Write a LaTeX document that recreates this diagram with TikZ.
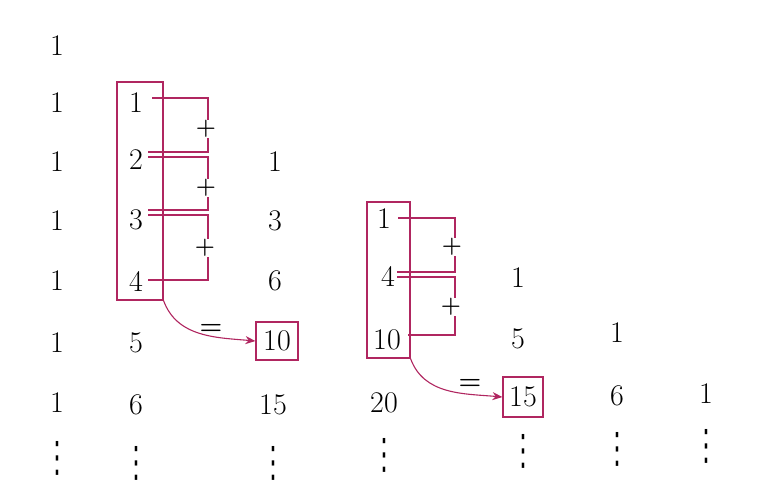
\documentclass[tikz,border=0pt]{standalone}
\usepackage{fontspec}
\usepackage{graphicx}
\setmainfont{Latin Modern Roman}
\newfontfamily\dvsans{DejaVu Sans}
\usetikzlibrary{arrows.meta}
\definecolor{crim}{RGB}{176,38,96}
\newcommand{\vdt}{\scalebox{1}[1.75]{⋮}}
\begin{document}
\begin{tikzpicture}[x=1pt,y=-1pt,
  num/.style={font=\fontsize{30}{34}\selectfont, inner sep=0pt},
  dts/.style={font=\dvsans\fontsize{24}{26}\selectfont, inner sep=0pt},
  pl/.style={font=\bfseries\fontsize{23}{26}\selectfont, fill=white, inner sep=0.3pt},
  eqs/.style={font=\bfseries\fontsize{26}{28}\selectfont, inner sep=0pt},
  brk/.style={draw=crim, line width=1.1pt},
  bx/.style={draw=crim, line width=1.1pt, inner sep=0pt},
  arr/.style={draw=crim, line width=1.1pt, -{Stealth[length=10pt,width=8pt]}}]
\useasboundingbox (0,0) rectangle (760,488);
% column 1
\node[num] (a0) at (57,46) {1};
\node[num] (a1) at (57,103) {1};
\node[num] (a2) at (57,162) {1};
\node[num] (a3) at (57,221) {1};
\node[num] (a4) at (57,281) {1};
\node[num] (a5) at (57,343) {1};
\node[num] (a6) at (57,403) {1};
\node[dts] (ad) at (57,458) {\vdt};
% column 2
\node[num] (b1) at (136,103) {1};
\node[num] (b2) at (136,160) {2};
\node[num] (b3) at (136,220) {3};
\node[num] (b4) at (136,281) {4};
\node[num] (b5) at (136,343) {5};
\node[num] (b6) at (136,405) {6};
\node[dts] (bd) at (136,463) {\vdt};
% column 3
\node[num] (c2) at (275,162) {1};
\node[num] (c3) at (275,221) {3};
\node[num] (c4) at (275,281) {6};
\node[num,bx,minimum width=42pt,minimum height=38pt] (c5) at (277,341) {10};
\node[num] (c6) at (273,405) {15};
\node[dts] (cd) at (273,463) {\vdt};
% column 4
\node[num] (d3) at (384,219) {1};
\node[num] (d4) at (388,276) {4};
\node[num] (d5) at (387,340) {10};
\node[num] (d6) at (384,403) {20};
\node[dts] (dd) at (384,455) {\vdt};
% column 5
\node[num] (e4) at (518,278) {1};
\node[num] (e5) at (518,339) {5};
\node[num,bx,minimum width=40pt,minimum height=40pt] (e6) at (523,397) {15};
\node[dts] (ed) at (523,451) {\vdt};
% column 6
\node[num] (f5) at (617,333) {1};
\node[num] (f6) at (617,396) {6};
\node[dts] (fd) at (617,449) {\vdt};
% column 7
\node[num] (g6) at (706,394) {1};
\node[dts] (gd) at (706,446) {\vdt};
% left group box
\node[bx,minimum width=46pt,minimum height=218pt] (lbox) at (140,191) {};
\draw[brk] (152,98) -- (208,98) -- (208,152) -- (148,152);
\draw[brk] (148,157) -- (208,157) -- (208,210) -- (148,210);
\draw[brk] (148,215) -- (208,215) -- (208,280) -- (148,280);
\node[pl] (p1) at (206,129) {+};
\node[pl] (p2) at (206,188) {+};
\node[pl] (p3) at (205,248) {+};
\draw[arr] (lbox.south east) to[out=-70,in=175] (c5.west);
\node[eqs] (eq1) at (211,329) {=};
% right group box
\node[bx,minimum width=43pt,minimum height=156pt] (rbox) at (388.5,280) {};
\draw[brk] (398,218) -- (455,218) -- (455,272) -- (397,272);
\draw[brk] (397,277) -- (455,277) -- (455,335) -- (408,335);
\node[pl] (p4) at (452,247) {+};
\node[pl] (p5) at (451,307) {+};
\draw[arr] (rbox.south east) to[out=-70,in=175] (e6.west);
\node[eqs] (eq2) at (470,384) {=};
\end{tikzpicture}
\end{document}
